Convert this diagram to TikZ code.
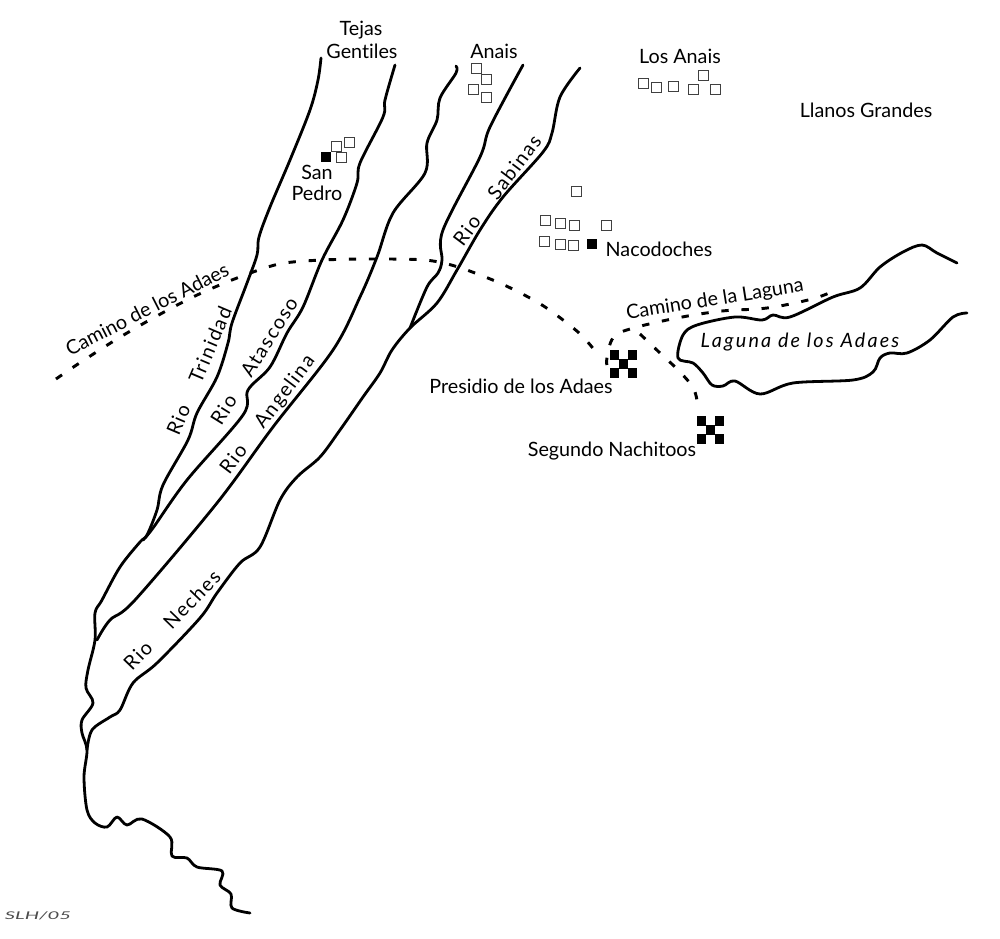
\documentclass[tikz,border=0pt]{standalone}
\usepackage{fontspec}
\setmainfont[Ligatures=CommonOff]{Lato}
\newfontfamily\lagunafont[LetterSpace=11,Ligatures=CommonOff]{Lato}
\newfontfamily\riverfont[LetterSpace=8,Ligatures=CommonOff]{Lato}
\usetikzlibrary{positioning}
\tikzset{
  river/.style={line width=2.1pt,line cap=round,line join=round},
  road/.style={line width=2.2pt,dash pattern=on 5.5pt off 9.6pt},
  town/.style={draw=black!75,fill=white,line width=0.6pt,minimum size=7.5pt,inner sep=0pt},
  mission/.style={fill=black,minimum size=8pt,inner sep=0pt},
  place/.style={font=\fontsize{14.8}{17}\selectfont,inner sep=0pt},
  riverlabel/.style={font=\fontsize{14.8}{17}\selectfont\riverfont,inner sep=0pt},
  cell/.style={fill=black,minimum size=6.9pt,inner sep=0pt}
}
\begin{document}
\begin{tikzpicture}[x=0.75pt,y=-0.75pt]
\useasboundingbox (0,0) rectangle (1000,939);
% rivers
\draw[river] plot[smooth,tension=0.55] coordinates {(321,58) (318,80) (310,110) (290,160) (270,207) (259,237) (257,255) (247,283) (232,323) (228,343) (217,377) (197,413) (188,440) (163,485) (157,510) (147,535) (140,542) (120,567) (102,600) (95,613) (95,640) (88,670) (86,688) (93,703) (82,720) (82,733) (87,750) (84,777) (87,810) (95,823) (107,827) (117,817) (127,825) (142,819) (170,837) (172,856) (187,858) (197,867) (222,871) (220,885) (231,894) (232,908) (250,913)};
\draw[river] plot[smooth,tension=0.55] coordinates {(395,65) (385,100) (383,117) (360,163) (357,183) (343,220) (322,260) (303,307) (287,333) (270,367) (248,390) (243,415) (187,480) (153,528) (143,540)};
\draw[river] plot[smooth,tension=0.55] coordinates {(456,66) (456,73) (440,98) (437,120) (427,143) (425,173) (393,213) (377,257) (360,297) (333,350) (273,427) (217,503) (135,600) (110,620) (97,640)};
\draw[river] plot[smooth,tension=0.55] coordinates {(523,65) (490,127) (480,157) (443,230) (442,260) (438,273) (427,287) (410,328)};
\draw[river] plot[smooth,tension=0.55] coordinates {(580,68) (560,97) (552,133) (543,152) (503,197) (480,230) (457,270) (437,303) (410,328) (392,350) (380,373) (363,397) (340,430) (320,457) (297,477) (280,500) (260,547) (240,563) (217,593) (200,618) (157,663) (133,683) (120,710) (110,717) (92,730) (87,750)};
% lake
\draw[river] plot[smooth,tension=0.55] coordinates {(957,263) (937,253) (922,245) (903,252) (880,267) (860,288) (833,297) (790,317) (773,315) (762,320) (735,317) (697,325) (683,335) (678,358) (693,363) (703,373) (712,385) (723,386) (735,381) (760,394) (793,383) (853,380) (873,372) (880,358) (890,353) (907,353) (930,340) (953,317) (967,313)};
% roads
\draw[road] plot[smooth,tension=0.5] coordinates {(56,379) (78,364) (117,339) (155,317) (195,296) (237,278) (279,264) (322,260) (372,259) (425,260) (458,267) (502,284) (542,305) (578,332) (596,352)};
\draw[road] plot[smooth,tension=0.6] coordinates {(607,365) (607,358) (613,338) (630,329) (677,318) (722,311) (767,308) (812,299) (836,290)};
\draw[road] plot[smooth,tension=0.6] coordinates {(640,334) (660,353) (677,369) (692,386) (697,400) (697,410)};
% settlements
\foreach \x/\y/\n in {336/146/a,349/142/b,341/157/c,476/68/d,486/79/e,473/89/f,486/97/g,576/191/h,545/220/i,560/223/j,574/225/k,606/225/l,544/241/m,560/244/n,573/245/o,643/83/p,656/87/q,673/86/r,703/75/s,693/89/t,715/89/u}
  \node[town] (town\n) at (\x,\y) {};
\node[mission] (sanpedromark) at (326,157) {};
\node[mission] (nacodochesmark) at (592,244) {};
\foreach \x/\y in {-1/-1,1/-1,0/0,-1/1,1/1} {
  \node[cell] (presidio\x\y) at (623.5+9*\x,364+9*\y) {};
  \node[cell] (nachitoos\x\y) at (710.5+9*\x,430+9*\y) {};
}
% labels
\node[place] (tejas) at (361,30) {Tejas};
\node[place] (gentiles) at (362,51) {Gentiles};
\node[place] (anais) at (494,51) {Anais};
\node[place] (losanais) at (680,56) {Los Anais};
\node[place] (llanos) at (866,110) {Llanos Grandes};
\node[place] (san) at (317,172) {San};
\node[place] (pedro) at (317,193) {Pedro};
\node[place] (nacodoches) at (659,249) {Nacodoches};
\node[place] (presidio) at (521,386) {Presidio de los Adaes};
\node[place] (segundo) at (612,451) {Segundo Nachitoos};
\node[place,rotate=9] (caminolaguna) at (715,300) {Camino de la Laguna};
\node[place,rotate=27] (caminoadaes) at (147,309) {Camino de los Adaes};
\node[place] (laguna) at (800,342) {\lagunafont\itshape Laguna de los Adaes};
\node[riverlabel,rotate=67] (trinidad) at (199,371) {Rio\hspace{1.3em}Trinidad};
\node[riverlabel,rotate=58] (atascoso) at (254,361) {Rio\hspace{1.3em}Atascoso};
\node[riverlabel,rotate=53] (angelina) at (268,415) {Rio\hspace{1.3em}Angelina};
\node[riverlabel,rotate=46] (neches) at (172,620) {Rio\hspace{1.3em}Neches};
\node[riverlabel,rotate=53] (sabinas) at (497,190) {Rio\hspace{1.3em}Sabinas};
\node[inner sep=0pt,font=\fontsize{8}{9}\selectfont\itshape,xscale=1.9,text=black!70] (signature) at (38,916) {SLH/05};
\end{tikzpicture}
\end{document}
